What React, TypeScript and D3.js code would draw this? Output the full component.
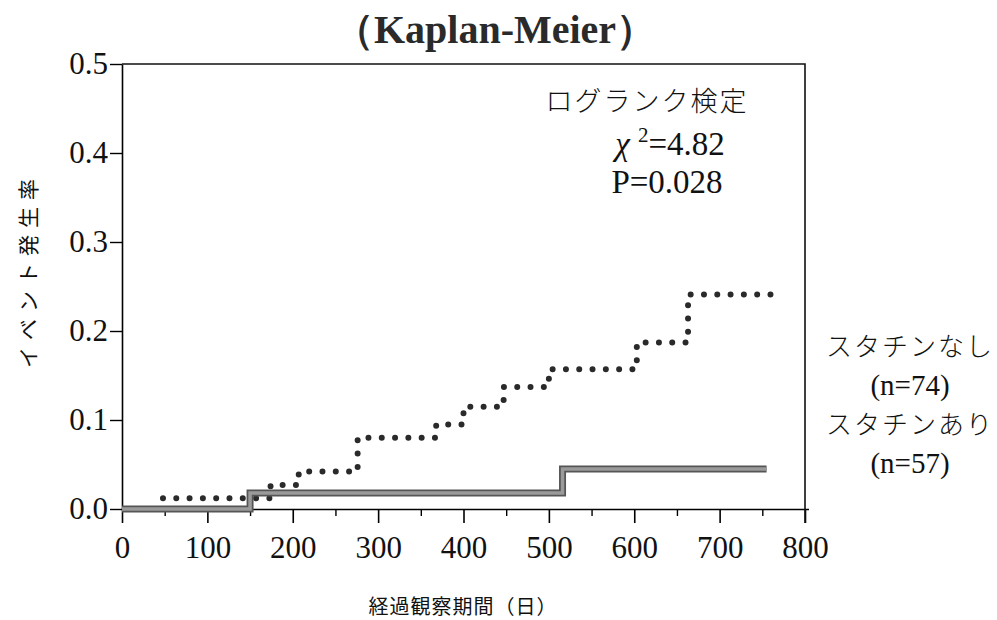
import React, { useEffect, useRef } from 'react';
import * as d3 from 'd3';

// スタチンなし (dotted)
const noStatinDays = [48, 174, 207, 276, 368, 400, 447, 500, 603, 663, 762];
const noStatinRate = [0.012, 0.027, 0.042, 0.080, 0.095, 0.115, 0.137, 0.157, 0.187, 0.241, 0.241];

// スタチンあり (solid)
const statinDays = [0, 150, 516, 755];
const statinRate = [0, 0.018, 0.045, 0.045];

const xMajorTicks = [0, 100, 200, 300, 400, 500, 600, 700, 800];
const xMinorTicks = [50, 150, 250, 350, 450, 550, 650, 750];
const yTicks = [0, 0.1, 0.2, 0.3, 0.4, 0.5];

const groupLabels = ['スタチンなし', '(n=74)', 'スタチンあり', '(n=57)'];

const App = () => {
  const svgRef = useRef(null);

  useEffect(() => {
    const svg = d3.select(svgRef.current);
    svg.selectAll('*').remove();

    const width = 997;
    const height = 620;
    const left = 122, right = 805, top = 64, bottom = 509;

    const x = d3.scaleLinear().domain([0, 800]).range([left, right]);
    const y = d3.scaleLinear().domain([0, 0.5]).range([bottom, top]);

    svg.attr('width', width).attr('height', height);

    const serif = '"Liberation Serif", "Times New Roman", serif';
    const jp = '"Noto Sans CJK JP", sans-serif';

    // title
    svg.append('text')
      .attr('x', 495)
      .attr('y', 43)
      .attr('text-anchor', 'middle')
      .attr('font-family', serif)
      .attr('font-weight', 'bold')
      .attr('font-size', 40)
      .attr('fill', '#2a2a2a')
      .text('（Kaplan-Meier）');

    // x axis, major + minor
    const xAxis = svg.append('g')
      .attr('transform', `translate(0,${bottom})`)
      .call(d3.axisBottom(x).tickValues(xMajorTicks).tickSize(14).tickSizeOuter(0).tickPadding(13));
    xAxis.select('.domain').attr('stroke-width', 1.6).attr('d', `M${left},0.5H${right + 4}`);
    xAxis.selectAll('.tick line').attr('stroke-width', 1.6);
    xAxis.selectAll('text')
      .attr('font-family', serif)
      .attr('font-size', 31)
      .attr('fill', '#111');

    svg.append('g')
      .attr('transform', `translate(0,${bottom})`)
      .call(d3.axisBottom(x).tickValues(xMinorTicks).tickSize(7).tickFormat(() => ''))
      .call(g => g.select('.domain').remove())
      .selectAll('.tick line').attr('stroke-width', 1.4);

    // y axis
    const yAxis = svg.append('g')
      .attr('transform', `translate(${left},0)`)
      .call(d3.axisLeft(y).tickValues(yTicks).tickFormat(d3.format('.1f')).tickSize(12).tickSizeOuter(0).tickPadding(2));
    yAxis.select('.domain').attr('stroke-width', 1.6);
    yAxis.selectAll('.tick line').attr('stroke-width', 1.4);
    yAxis.selectAll('text')
      .attr('font-family', serif)
      .attr('font-size', 31)
      .attr('fill', '#111');

    // frame top & right
    svg.append('path')
      .attr('d', `M${left},${top}H${right}V${bottom + 14}`)
      .attr('fill', 'none')
      .attr('stroke', '#111')
      .attr('stroke-width', 1.6);

    const line = d3.line().curve(d3.curveStepAfter)
      .x(d => x(d[0]))
      .y(d => y(d[1]));

    const noStatin = noStatinDays.map((d, i) => [d, noStatinRate[i]]);
    const statin = statinDays.map((d, i) => [d, statinRate[i]]);

    svg.append('path')
      .datum(noStatin)
      .attr('d', line)
      .attr('fill', 'none')
      .attr('stroke', '#2a2a2a')
      .attr('stroke-width', 6)
      .attr('stroke-linecap', 'round')
      .attr('stroke-dasharray', '0 13.3');

    svg.append('path')
      .datum(statin)
      .attr('d', line)
      .attr('fill', 'none')
      .attr('stroke', '#555')
      .attr('stroke-width', 7);
    svg.append('path')
      .datum(statin)
      .attr('d', line)
      .attr('fill', 'none')
      .attr('stroke', '#9a9a9a')
      .attr('stroke-width', 3.5);

    // log-rank annotation
    svg.append('text')
      .attr('x', 647)
      .attr('y', 111)
      .attr('text-anchor', 'middle')
      .attr('font-family', jp)
      .attr('font-weight', 300)
      .attr('font-size', 27)
      .attr('letter-spacing', 2)
      .attr('fill', '#111')
      .text('ログランク検定');

    const chi = svg.append('text')
      .attr('x', 670)
      .attr('y', 155)
      .attr('text-anchor', 'middle')
      .attr('font-family', serif)
      .attr('font-size', 33)
      .attr('fill', '#111');
    chi.append('tspan').attr('font-style', 'italic').text('χ ');
    chi.append('tspan').attr('font-size', 21).attr('dy', -13).text('2');
    chi.append('tspan').attr('dy', 13).text('=4.82');

    svg.append('text')
      .attr('x', 667)
      .attr('y', 193)
      .attr('text-anchor', 'middle')
      .attr('font-family', serif)
      .attr('font-size', 33)
      .attr('fill', '#111')
      .text('P=0.028');

    // group labels on the right
    const labelY = [356, 395, 434, 473];
    groupLabels.forEach((t, i) => {
      const isN = t.startsWith('(');
      svg.append('text')
        .attr('x', 910)
        .attr('y', labelY[i])
        .attr('text-anchor', 'middle')
        .attr('font-family', isN ? serif : jp)
        .attr('font-weight', isN ? 400 : 300)
        .attr('font-size', isN ? 29 : 26)
        .attr('letter-spacing', isN ? 0 : 2)
        .attr('fill', '#111')
        .text(t);
    });

    // axis titles
    svg.append('text')
      .attr('x', 463)
      .attr('y', 614)
      .attr('text-anchor', 'middle')
      .attr('font-family', jp)
      .attr('font-size', 20)
      .attr('letter-spacing', 1)
      .attr('fill', '#111')
      .text('経過観察期間（日）');

    svg.append('text')
      .attr('transform', 'translate(36,270) rotate(-90)')
      .attr('text-anchor', 'middle')
      .attr('font-family', jp)
      .attr('font-size', 21)
      .attr('letter-spacing', 7)
      .attr('fill', '#111')
      .text('イベント発生率');
  }, []);

  return (
    <div style={{ position: 'absolute', left: 0, top: 0, background: '#fff' }}>
      <svg ref={svgRef} style={{ display: 'block' }}></svg>
    </div>
  );
};

export default App;
